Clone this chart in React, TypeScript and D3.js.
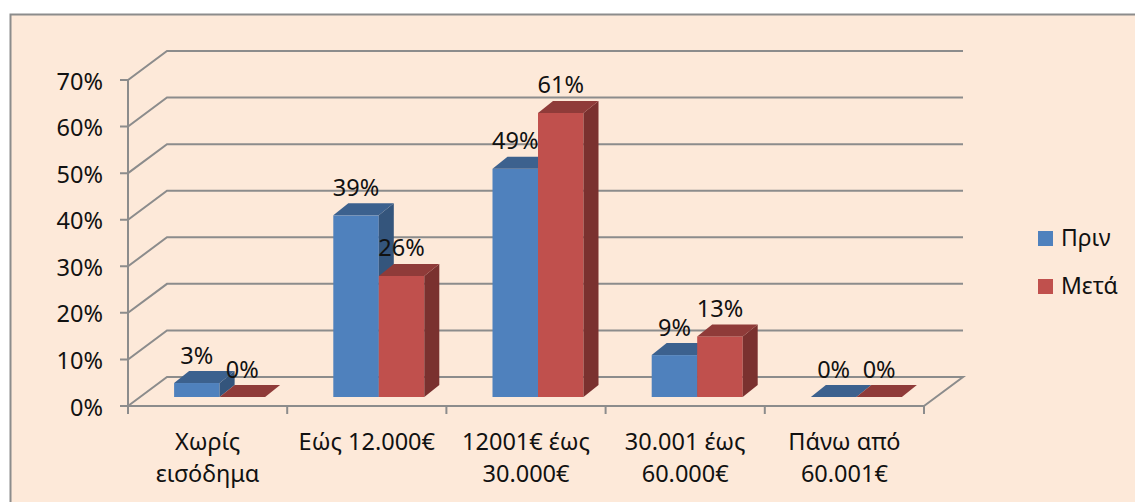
import React from "react";
import * as d3 from "d3";

const categories = [["Χωρίς", "εισόδημα"], ["Εώς 12.000€"], ["12001€ έως", "30.000€"], ["30.001 έως", "60.000€"], ["Πάνω από", "60.001€"]];
const before = [3, 39, 49, 9, 0];
const after = [0, 26, 61, 13, 0];
const yTicks = [0, 10, 20, 30, 40, 50, 60, 70];
const seriesNames = ["Πριν", "Μετά"];
const BLUE = ["#4f81bd", "#3c618e", "#34557c"];
const RED = ["#c0504d", "#8f3b39", "#7a312f"];
const FONT = "'Noto Sans', 'Open Sans', sans-serif";
const GRID = "#8c8c8c";

export default function App() {
  const x = d3.scaleBand<number>().domain(d3.range(5)).range([128, 924]);
  const y = d3.scaleLinear().domain([0, 70]).range([406, 80]);
  const barH = d3.scaleLinear().domain([0, 70]).range([0, 326]);
  const dx = 39, dy = 29;
  const bx = 15, by = 12;
  const baseY = 397;
  const barW = 45.5;
  const shift = 12;
  const txt = { fontFamily: FONT, fontSize: 23.5, fill: "#111" };
  const pts = (a: number[][]) => a.map((p) => p.join(",")).join(" ");
  const bar = (cx: number, v: number, c: string[], key: string) => {
    const t = baseY - barH(v);
    const r = cx + barW;
    return (
      <g key={key}>
        {v > 0 && <rect x={cx} y={t} width={barW} height={baseY - t} fill={c[0]} />}
        {v > 0 && <polygon points={pts([[r, t], [r + bx, t - by], [r + bx, baseY - by], [r, baseY]])} fill={c[2]} />}
        <polygon points={pts([[cx, t], [cx + bx, t - by], [r + bx, t - by], [r, t]])} fill={c[1]} />
      </g>
    );
  };
  return (
    <svg width={1135} height={502} style={{ position: "absolute", left: 0, top: 0 }}>
      <rect x={0} y={0} width={1135} height={502} fill="#fff" />
      <rect x={10.5} y={14.5} width={1140} height={500} fill="#fde9d9" stroke="#8c8c8c" strokeWidth={2} />
      <g fill="none" stroke={GRID} strokeWidth={2}>
        {yTicks.map((t) => (
          <polyline key={t} points={pts(t === 0
            ? [[128, y(t)], [128 + dx, y(t) - dy], [924 + dx, y(t) - dy], [924, y(t)]]
            : [[120, y(t)], [128, y(t)], [128 + dx, y(t) - dy], [924 + dx, y(t) - dy]])} />
        ))}
        <line x1={128} y1={y(70)} x2={128} y2={414} />
        <line x1={120} y1={406} x2={924} y2={406} />
        {d3.range(6).map((i) => {
          const tx = 128 + x.step() * i;
          return <line key={i} x1={tx} y1={406} x2={tx} y2={414} />;
        })}
      </g>
      {yTicks.map((t) => (
        <text key={t} x={103} y={y(t) + 9.5} textAnchor="end" {...txt}>{t}%</text>
      ))}
      {categories.map((_, i) => {
        const cx = (x(i) as number) + x.bandwidth() / 2 - barW + shift;
        return (
          <g key={i}>
            {bar(cx, before[i], BLUE, "b" + i)}
            {bar(cx + barW, after[i], RED, "a" + i)}
          </g>
        );
      })}
      {categories.map((_, i) => {
        const c = (x(i) as number) + x.bandwidth() / 2;
        return (
          <g key={i}>
            <text x={c + shift - barW / 2} y={baseY - barH(before[i]) - 19.5} textAnchor="middle" {...txt}>{before[i]}%</text>
            <text x={c + shift + barW / 2} y={baseY - barH(after[i]) - 19.5} textAnchor="middle" {...txt}>{after[i]}%</text>
            {categories[i].map((l, j) => (
              <text key={j} x={c} y={450 + j * 32} textAnchor="middle" {...txt}>{l}</text>
            ))}
          </g>
        );
      })}
      {seriesNames.map((n, i) => (
        <g key={n}>
          <rect x={1038} y={231 + i * 48} width={15} height={15} fill={i ? RED[0] : BLUE[0]} />
          <text x={1061} y={246 + i * 48} fontFamily={FONT} fontSize={23} fill="#111">{n}</text>
        </g>
      ))}
    </svg>
  );
}
